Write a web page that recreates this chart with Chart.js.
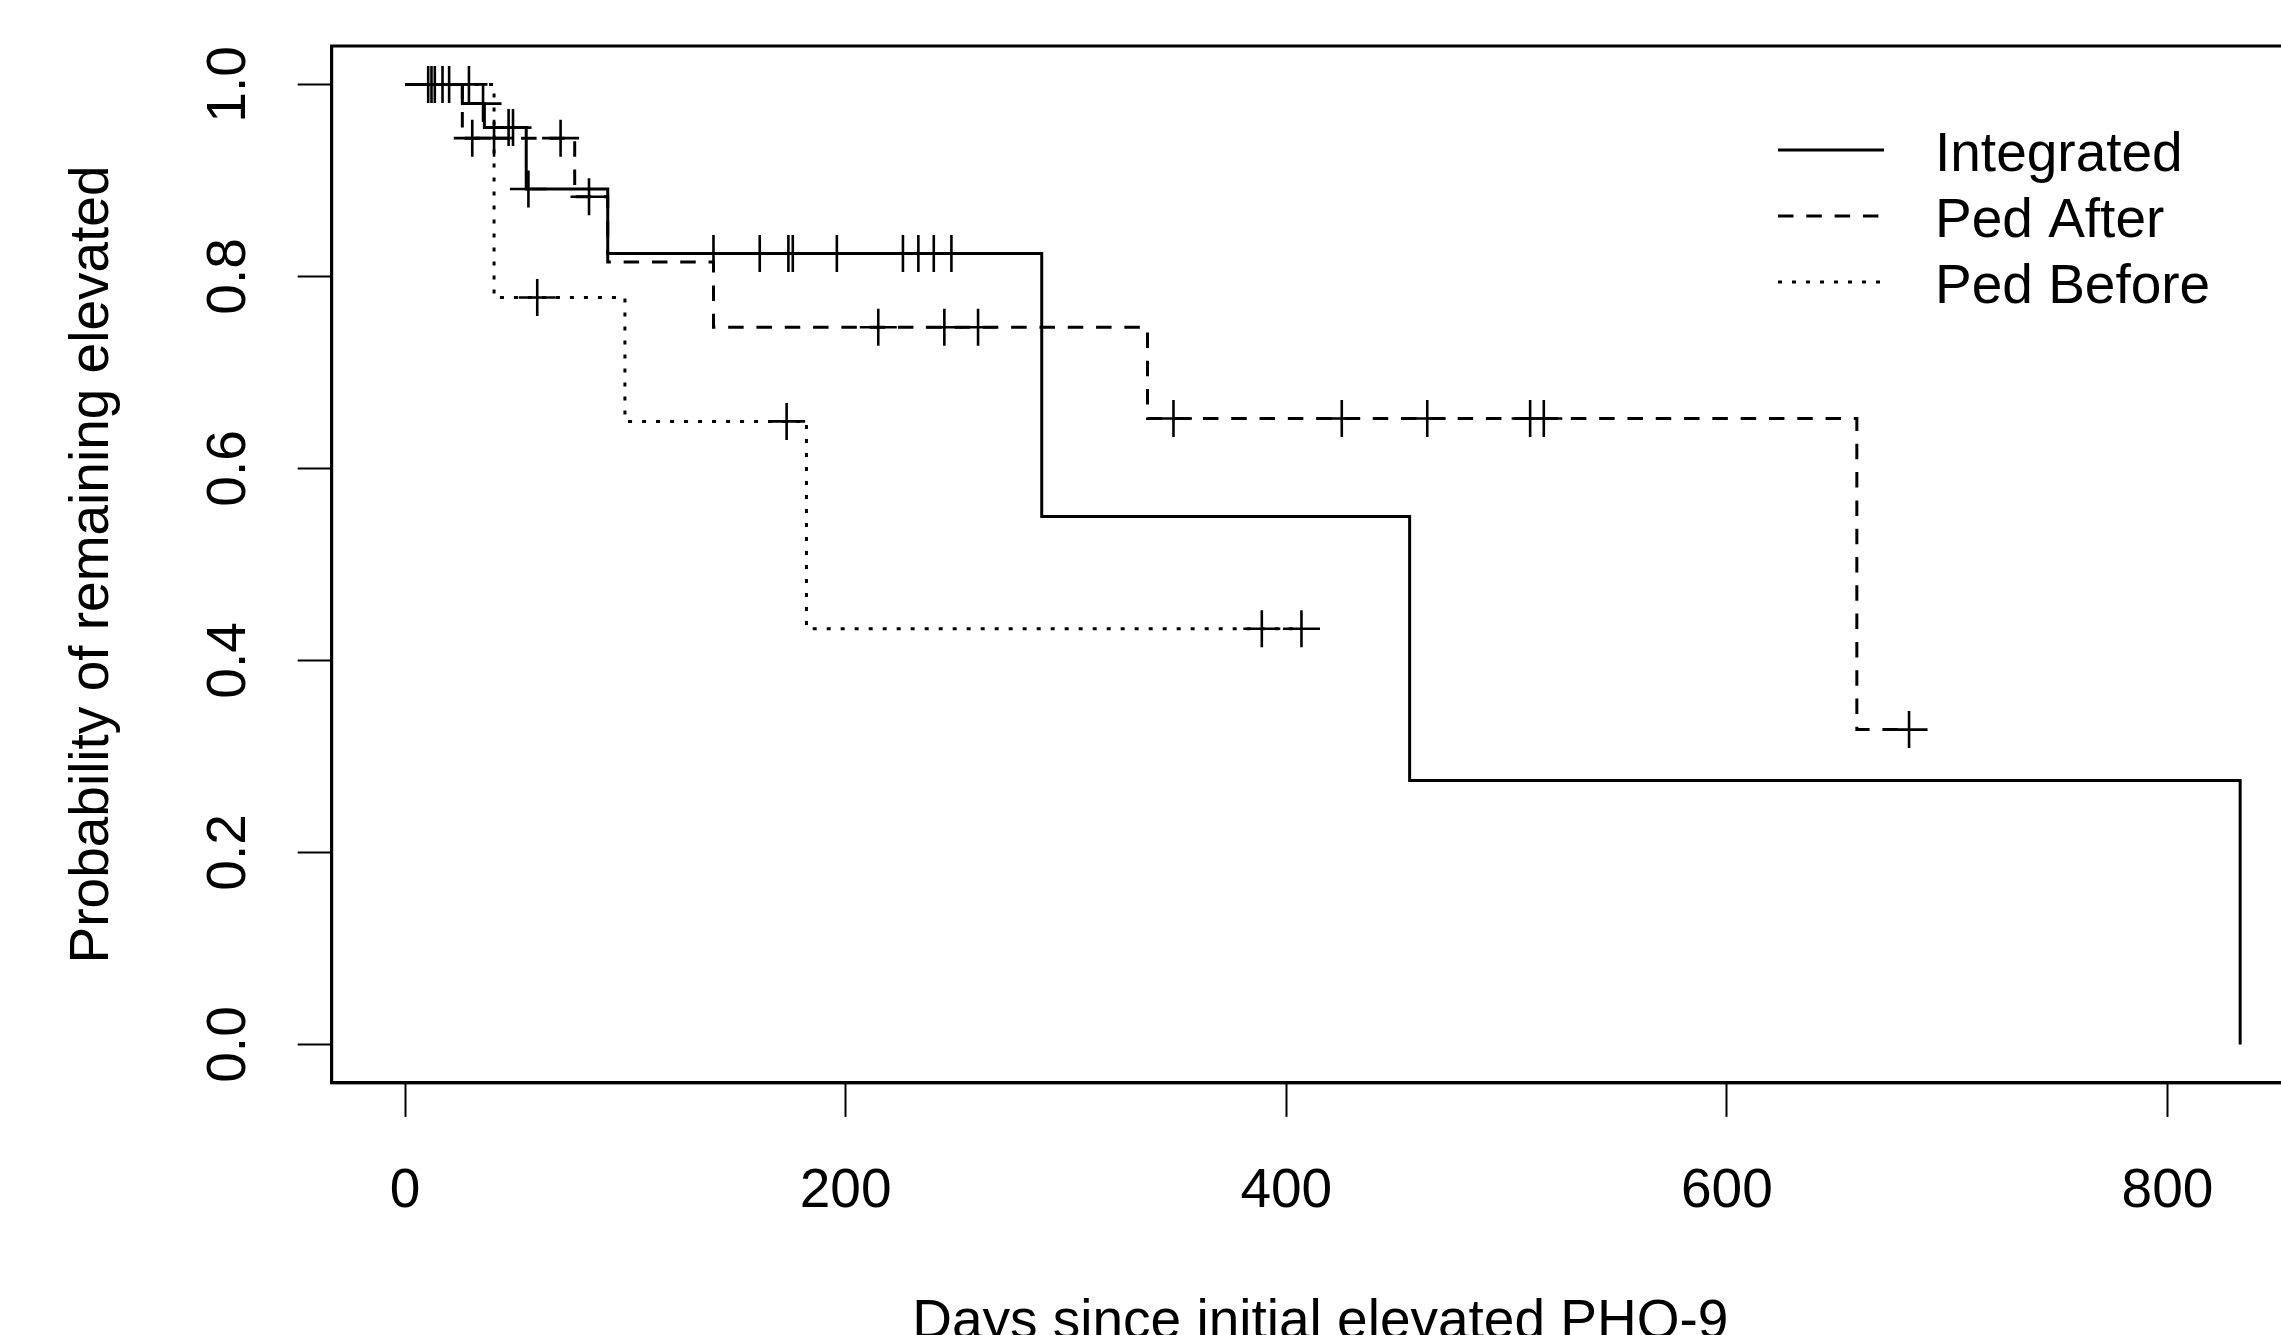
<!DOCTYPE html>
<html>
<head>
<meta charset="utf-8">
<script src="https://cdn.jsdelivr.net/npm/chart.js@4.4.1/dist/chart.umd.min.js"></script>
<style>
html, body { margin: 0; padding: 0; background: #fff; overflow: hidden; }
canvas { display: block; }
</style>
</head>
<body>
<canvas id="km" width="2330" height="1360"></canvas>
<script>
// Kaplan-Meier steps: day of each drop and the level after it
const integratedDays = [0, 26, 36, 55, 92, 289, 456, 833];
const integratedSurv = [1.0, 0.980, 0.955, 0.891, 0.824, 0.550, 0.275, 0.0];
const integratedCensored = [10.5, 12, 13.5, 17, 20, 35.4, 47, 49, 56, 140, 161, 174, 176, 196, 226, 233, 240, 248];

const pedAfterDays = [0, 26, 77, 92, 140, 337, 659];
const pedAfterSurv = [1.0, 0.944, 0.883, 0.815, 0.747, 0.652, 0.328];
const pedAfterCensored = [30.5, 40.4, 70.6, 83.5, 214.8, 244.8, 260.1, 348.8, 425.2, 464, 510.7, 516.9, 682.7];

const pedBeforeDays = [0, 40.4, 99.8, 182.2];
const pedBeforeSurv = [1.0, 0.778, 0.649, 0.433];
const pedBeforeCensored = [29, 60, 173.2, 388.9, 406.9];

const groupNames = ['Integrated', 'Ped After', 'Ped Before'];
const xTicks = [0, 200, 400, 600, 800];
const yTicks = [0, 0.2, 0.4, 0.6, 0.8, 1.0];

const FONT = "'Liberation Sans', Arial, sans-serif";
const FSIZE = 55;
const dashes = [[], [15.5, 12.8], [4, 10]];

function survAt(days, surv, t){
    let v = surv[0];
    for(let i = 0; i < days.length; i++){
        if(days[i] <= t) v = surv[i];
    }
    return v;
}

function stepLine(days, surv, censored){
    const pts = days.map((d, i) => ({x: d, y: surv[i]}));
    const lastC = Math.max(...censored);
    if(lastC > days[days.length - 1]){
        pts.push({x: lastC, y: surv[surv.length - 1]});
    }
    return pts;
}

function censorMarks(days, surv, censored){
    return censored.map(t => ({x: t, y: survAt(days, surv, t)}));
}

const groups = [
    [integratedDays, integratedSurv, integratedCensored],
    [pedAfterDays, pedAfterSurv, pedAfterCensored],
    [pedBeforeDays, pedBeforeSurv, pedBeforeCensored]
];

const datasets = [];
groups.forEach((g, i) => {
    datasets.push({
        label: groupNames[i],
        data: stepLine(g[0], g[1], g[2]),
        showLine: true,
        stepped: true,
        borderColor: '#000',
        borderWidth: 3,
        borderDash: dashes[i],
        borderCapStyle: 'butt',
        pointRadius: 0,
        pointHoverRadius: 0,
        fill: false
    });
});
groups.forEach((g, i) => {
    datasets.push({
        label: groupNames[i] + ' censored',
        data: censorMarks(g[0], g[1], g[2]),
        showLine: false,
        pointStyle: 'cross',
        pointRadius: 18.5,
        pointHoverRadius: 18.5,
        pointBorderWidth: 2.6,
        pointBorderColor: '#000',
        pointBackgroundColor: '#000'
    });
});

// box round the plot region, as in base R plots
const boxPlugin = {
    id: 'box',
    afterDraw(chart){
        const a = chart.chartArea;
        const ctx = chart.ctx;
        ctx.save();
        ctx.strokeStyle = '#000';
        ctx.lineWidth = 3;
        ctx.strokeRect(a.left, a.top, a.right - a.left, a.bottom - a.top);
        ctx.restore();
    }
};

// legend placed inside the plot at top right, no frame
const legendPlugin = {
    id: 'rlegend',
    afterDraw(chart){
        const ctx = chart.ctx;
        const rows = [150, 216, 282];
        ctx.save();
        ctx.font = FSIZE + 'px ' + FONT;
        ctx.fillStyle = '#000';
        ctx.textBaseline = 'alphabetic';
        ctx.textAlign = 'left';
        rows.forEach((y, i) => {
            ctx.beginPath();
            ctx.setLineDash(dashes[i]);
            ctx.lineWidth = 3;
            ctx.strokeStyle = '#000';
            ctx.moveTo(1778, y);
            ctx.lineTo(1884, y);
            ctx.stroke();
            ctx.setLineDash([]);
            ctx.fillText(groupNames[i], 1935, y + 21);
        });
        ctx.restore();
    }
};

function noPad(s){
    s.paddingTop = 0;
    s.paddingBottom = 0;
    s.paddingLeft = 0;
    s.paddingRight = 0;
}

new Chart(document.getElementById('km'), {
    type: 'scatter',
    data: { datasets: datasets },
    options: {
        responsive: false,
        animation: false,
        devicePixelRatio: 1,
        layout: { padding: { left: 0, right: 15, top: 46, bottom: 0 } },
        plugins: {
            legend: { display: false },
            tooltip: { enabled: false }
        },
        scales: {
            x: {
                type: 'linear',
                min: -33.3,
                max: 864.2,
                afterBuildTicks: s => { s.ticks = xTicks.map(v => ({value: v})); },
                afterFit: s => { s.height = 277.1; noPad(s); },
                grid: { drawOnChartArea: false, drawTicks: true, tickLength: 34, tickWidth: 2, tickColor: '#000' },
                border: { display: true, color: '#000', width: 3 },
                ticks: {
                    color: '#000',
                    font: { family: FONT, size: FSIZE },
                    padding: 41.8,
                    minRotation: 0,
                    maxRotation: 0,
                    callback: v => String(v)
                },
                title: {
                    display: true,
                    text: 'Days since initial elevated PHQ-9',
                    color: '#000',
                    font: { family: FONT, size: FSIZE },
                    padding: { top: 0, bottom: 4.4 }
                }
            },
            y: {
                type: 'linear',
                min: -0.04,
                max: 1.04,
                afterBuildTicks: s => { s.ticks = yTicks.map(v => ({value: v})); },
                afterFit: s => { s.width = 331.7; noPad(s); },
                grid: { drawOnChartArea: false, drawTicks: true, tickLength: 34, tickWidth: 2, tickColor: '#000' },
                border: { display: true, color: '#000', width: 3 },
                ticks: {
                    color: '#000',
                    font: { family: FONT, size: FSIZE },
                    padding: 29.6,
                    minRotation: 90,
                    maxRotation: 90,
                    crossAlign: 'center',
                    callback: v => v.toFixed(1)
                },
                title: {
                    display: true,
                    text: 'Probability of remaining elevated',
                    color: '#000',
                    font: { family: FONT, size: FSIZE },
                    padding: { top: 60.3, bottom: 0 }
                }
            }
        }
    },
    plugins: [boxPlugin, legendPlugin]
});
</script>
</body>
</html>
